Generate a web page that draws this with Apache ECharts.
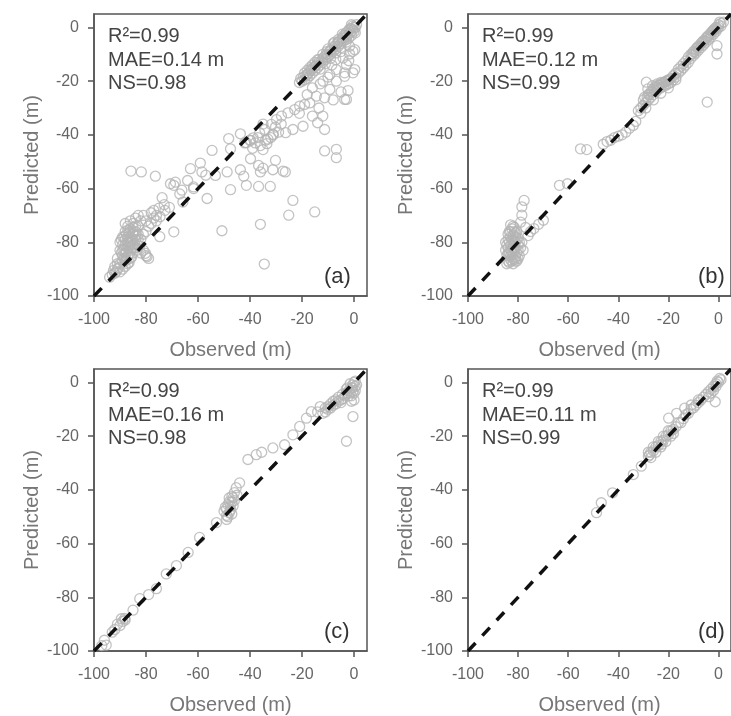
<!DOCTYPE html>
<html>
<head>
<meta charset="utf-8">
<script src="https://cdn.jsdelivr.net/npm/echarts@6/dist/echarts.min.js"></script>
<style>
  html, body { margin: 0; padding: 0; background: #fff; }
  #chart { width: 731px; height: 716px; }
</style>
</head>
<body>
<div id="chart"></div>
<script>
// observed vs predicted depth (m), one array per panel
var pointsA = [
  // lower-left cluster
  [-94,-93],[-93,-92],[-92,-91.5],[-91,-90],[-92,-89],[-90,-88],[-91,-86],[-89,-85],[-90,-83],[-88,-84],
  [-89,-81],[-88,-79],[-87,-82],[-88,-76],[-87,-78],[-86,-80],[-86,-75],[-85,-77],[-85,-73],[-84,-79],
  [-84,-71],[-83,-74],[-83,-77],[-82,-72],[-81,-70],[-80,-72],[-86,-86],[-87,-88],[-85,-84],[-84,-82],
  [-83,-81],[-82,-79],[-81,-77],[-80,-76],[-79,-74],[-78,-73],[-77,-71],[-76,-70],[-82,-84],[-80,-85],
  [-79,-86],[-81,-83],[-89,-90],[-90,-91],[-88,-87],[-87,-85],[-86,-83],[-85,-81],[-89,-78],[-90,-80],
  [-87,-74],[-84,-76],[-83,-70],[-88,-73],[-86,-72],[-89,-87],[-91,-88],[-87,-80],[-85,-79],[-83,-79],
  [-88.5,-82.5],[-87.5,-83.5],[-86.5,-84.5],[-85.5,-85.5],[-88.5,-86],[-89.5,-84],[-87.5,-86.5],[-86.5,-87.5],
  [-88,-89],[-90.5,-89.5],[-91.5,-91],[-92.5,-90.5],[-89,-83],[-88,-81],[-87,-79.5],[-86,-78],[-85,-76],
  [-84,-74],[-86.5,-76.5],[-87.5,-77],[-88.5,-78],[-89.5,-79],[-85.5,-82],[-84.5,-80.5],[-83.5,-83],
  [-82.5,-81.5],[-86,-81.5],[-87,-75.5],[-85,-74.5],[-84,-77.5],
  // middle scatter
  [-77,-68.1],[-75,-67.3],[-72.7,-68.1],[-74.6,-70.5],[-69.3,-76.1],[-74.7,-77.9],[-80.2,-84.1],[-79.6,-85.4],
  [-70.6,-58.2],[-68.7,-57.6],[-65.8,-65],[-61.7,-59.4],[-85.8,-53.5],[-81.8,-53.8],[-76.4,-55.4],[-69.3,-58.8],
  [-66.2,-60.6],[-73.8,-63.4],[-62.9,-52.6],[-59.1,-50.5],[-58.5,-53.8],[-56.5,-63.7],[-61.7,-60],[-54.6,-45.8],
  [-53.3,-55.1],[-48.2,-41.4],[-43.7,-39.6],[-47.5,-45.2],[-48.8,-53.8],[-47.5,-60.4],[-43.7,-53],[-42.4,-55.4],
  [-41.4,-58.8],[-39.8,-48.9],[-36.7,-51.4],[-36,-53.8],[-36.7,-59.2],[-32.2,-59.2],[-30.2,-49.5],[-33.5,-43.3],
  [-39.8,-42.1],[-26.4,-53.8],[-50.8,-75.7],[-36,-73.3],[-34.5,-88.1],[-25.1,-69.9],[-30.2,-37.1],[-35,-36],
  [-40,-42],[-38,-43],[-36,-44],[-34,-42],[-32,-41],[-31,-40],[-29,-39],[-37,-41],[-35,-45.5],[-39,-45],
  [-42,-43],[-27.3,-53.5],[-31.2,-53],[-35,-52.4],[-23.5,-64.4],[-15.1,-68.7],[-64,-57],[-57,-55],
  [-78,-69],[-76,-72],[-73,-66],[-71,-67],[-67,-62],
  // lower branch
  [-41.4,-42.9],[-38.8,-41.1],[-36.3,-39.2],[-34.3,-38],[-31.8,-36.1],[-29.8,-34.3],[-27.9,-33],[-25.4,-31.8],
  [-22.8,-30.6],[-20.9,-29.3],[-19,-28.7],[-17,-28.1],[-14.5,-25.6],[-11.3,-26.2],[-9.3,-23.1],[-6.8,-20],
  [-3.6,-18.2],[-2.9,-13.9],[-0.4,-16.9],[0.3,-8.3],[-11.3,-38],[-19.6,-36.8],[-23.5,-38],[-26.3,-39.2],
  [-31.2,-39.8],[-33.1,-41.6],[-16,-33],[-13.5,-30],[-8,-27],[-5,-24],[-18,-25],[-16,-22.5],[-13,-21],
  [-10,-18.5],[-12,-33],[-14,-35.5],[-11.3,-46],[-6.8,-45.4],[-6.8,-48.5],[-2.9,-26.8],[-3.6,-26.8],
  [-11.9,-20],[-9.3,-17.6],[-6.8,-15.7],[0.3,-15.7],[-3.6,-16.9],[-4.2,-11.4],[-0.4,-8.9],[-1.7,-7],
  [-1.7,-9.9],[-2.3,-23.5],[-5,-9],[-7,-12],[-8.5,-14],[-2,-12.4],[-21,-32],[-28,-36],
  // upper band along the 1:1 line
  [0,0],[-0.5,-1],[-1,-0.5],[-1.5,-2],[-2,-1],[-2.5,-3],[-3,-2],[-0.5,0.5],[0.5,0],[-1,-3],
  [-2,-4],[-3,-4.5],[-3.5,-3],[-4,-5],[-4.5,-4],[-5,-6],[-5.5,-5],[-6,-7],[-6.5,-6],[-7,-8],
  [-7.5,-7],[-8,-9],[-8.5,-8],[-9,-10],[-9.5,-9],[-10,-11],[-10.5,-10],[-11,-12],[-11.5,-11],[-12,-13],
  [-12.5,-12.5],[-13,-14],[-13.5,-13],[-14,-15],[-14.5,-14],[-15,-16],[-15.5,-15],[-16,-17],[-16.5,-16],
  [-17,-18],[-17.5,-17],[-18,-19],[-18.5,-18],[-19,-19.5],[-20,-20],[-4,-3],[-6,-4.5],[-8,-6],[-10,-8],
  [-12,-10],[-14,-12],[-16,-14],[-18,-16],[-15,-13],[-19,-17],[-17,-15],[1,1],[0.5,-2],[-1,1],
  [-19.5,-18.5],[-18,-17.5],[-16.5,-15.5],[-15,-14.5],[-13.5,-12],[-12,-11.5],[-10.5,-9],[-9,-8.5],
  [-7.5,-5.5],[-6,-5.5],[-4.5,-2.5],[-3,-3.5],[-1.5,-0.5],[0,-1.5],[-20.5,-19],[-21,-20.5],
  [-13,-15.5],[-11,-13.5],[-9,-11.5],[-7,-9.5],[-5,-7.5],[-3,-5.5]
];

var pointsB = [
  // lower-left cluster
  [-84,-87],[-83,-86.5],[-82,-86],[-81,-85.5],[-84.5,-85],[-83.5,-84],[-82.5,-83.5],[-81.5,-83],[-80.5,-84],
  [-84,-82],[-83,-81],[-82,-80.5],[-81,-80],[-80,-81],[-84,-79],[-83,-78],[-82,-77.5],[-81,-78],[-80,-78.5],
  [-83.5,-76],[-82.5,-75],[-81.5,-74.5],[-83,-73.5],[-80.5,-76],[-79.5,-80],[-79,-82],[-82,-88],[-84.5,-88],
  [-85,-83],[-85,-80],[-79.5,-85],[-78,-83],[-78.5,-80],[-83,-85],[-81,-87],[-80,-86],[-82,-82],[-81,-76.5],
  [-83.5,-87.5],[-82.5,-87],[-81.5,-86.5],[-80.5,-87],[-84,-84],[-83,-83],[-82,-84.5],[-81,-82],[-80,-83],
  [-84.5,-81],[-83.5,-80],[-82.5,-79],[-81.5,-79.5],[-80.5,-79],[-84,-77],[-83,-76],[-82,-74],[-81.5,-76],
  // hollow outliers
  [-77.6,-64.4],[-78.5,-66.8],[-78.5,-69.9],[-79,-72.5],[-77,-74.5],[-73.7,-74.9],[-71.8,-73.3],[-69.9,-71.8],
  [-75,-76],[-76,-77.5],[-63.5,-58.8],[-60.3,-58.2],[-55.1,-45.2],[-52.6,-45.5],
  [-46,-43.5],[-44.5,-42.5],[-43,-42],[-41.5,-41],[-40,-40.5],[-38.5,-40],[-37,-39],[-35.5,-37.5],[-34,-36.5],
  [-33,-35],[-28.8,-20.4],[-28.2,-22.9],[-29.5,-26],[-26.3,-21.7],[-24.4,-21],[-23,-20.5],
  [-4.5,-27.8],[-0.6,-6.8],[-0.6,-9.9],
  // band between -32 and -12
  [-32,-31],[-31,-30],[-30,-29],[-30,-27],[-29,-28],[-28,-27],[-28,-25],[-27,-26],[-27,-24],[-26,-25],
  [-26,-23],[-25,-24],[-25,-22],[-24,-23],[-24,-21.5],[-23,-22.5],[-22,-22],[-22,-20.5],[-21,-21.5],[-21,-20],
  [-20,-21],[-20,-19.5],[-19,-20.5],[-19,-19],[-18,-19.5],[-18,-18],[-17,-18.5],[-17,-17],[-16,-17],[-16,-15.5],
  [-15,-16],[-15,-14.5],[-14,-15],[-14,-13.5],[-13,-14],[-13,-12.5],[-12,-13],[-12,-11],[-31,-32],[-29,-30],
  [-26,-27],[-23,-24.5],[-20,-22.5],[-17,-19.5],[-25.5,-23.5],[-24.5,-22.5],[-23.5,-21.5],[-22.5,-21],
  [-21.5,-20.5],[-20.5,-20],[-19.5,-19.5],[-28.5,-26],[-27.5,-25],[-26.5,-24],
  // band between -12 and 2
  [-11,-11.5],[-11,-10],[-10,-10.5],[-10,-9],[-9,-9.5],[-9,-8],[-8,-8.5],[-8,-7],[-7,-7.5],[-7,-6],
  [-6,-6.5],[-6,-5],[-5,-5.5],[-5,-4],[-4,-4.5],[-4,-3],[-3,-3.5],[-3,-2],[-2,-2.5],[-2,-1],
  [-1,-1.5],[-1,0],[0,0],[0,1],[1,1.5],[1,0.5],[-0.5,-0.5],[-1.5,-0.5],[0.5,2],[2,2],
  [-10.5,-10],[-9.5,-9],[-8.5,-7.5],[-7.5,-7],[-6.5,-5.5],[-5.5,-5],[-4.5,-3.5],[-3.5,-3],[-2.5,-1.5],[-1.5,-1]
];

var pointsC = [
  // near origin
  [0,0],[-0.5,-1],[-1,-2],[-1.5,-0.5],[-2,-3],[-0.5,-3.5],[-1,-5],[0,-4],[0.5,-1.5],[-1.5,-4],
  [-2.5,-2],[-3,-4],[-3.5,-5],[-4,-6],[-5,-6.5],[-6,-7],[-7,-8],[-8,-8.5],[-9,-9.5],[-10,-10],
  [-11,-11],[-12,-11.5],[-4.5,-4.5],[-6,-5.5],[-8,-7],[-10,-9],[-3,-2.5],[0,-6.5],[-0.4,-12.7],[-2.9,-21.9],
  [0.5,-3],[1,-1],[0.5,0.5],[-0.5,-2],[-2,-5],[-7,-6.5],[-9,-8],[-11,-9.5],[-5,-7.5],[-1,-7],
  // along the line
  [-16.4,-10.9],[-18.3,-13.3],[-20.9,-16.4],[-23.5,-19.5],[-26.7,-23.2],[-31.2,-24.4],[-35.5,-26],
  [-37.6,-26.9],[-40.8,-28.7],[-14,-11],[-13,-9],
  // cluster near -47
  [-44,-37.4],[-45.3,-39.2],[-46,-41],[-47,-42.5],[-48,-43],[-47,-44.5],[-48.5,-45.5],[-49,-47],[-47.5,-47.5],
  [-46.5,-46],[-48,-48.5],[-49,-49.5],[-47,-49],[-50,-48],[-46,-44],[-45,-42],[-49.5,-46.5],[-48.5,-50],
  [-47.5,-46],[-46.5,-43],[-48,-44.5],[-49,-51],
  // lower part
  [-52.9,-52.2],[-59.4,-57.7],[-63.8,-63.3],[-68.3,-68.2],[-72.2,-71.3],[-76,-76.8],[-79,-79],[-82.4,-80.5],
  [-85,-84.8],[-88.2,-87.9],[-89,-89],[-90,-90.5],[-91,-90],[-92,-92],[-93,-93],[-95.3,-97.8],[-96,-96],
  [-97,-98],[-88,-88.5],[-89.5,-88]
];

var pointsD = [
  [-48.7,-48.5],[-46.8,-44.8],[-42.3,-41.1],[-34,-34.3],[-30.8,-31.2],
  // band between -29 and -17
  [-28,-27.5],[-27,-26],[-26,-25.5],[-25,-24],[-24,-23.5],[-23,-22],[-22,-21.5],[-21,-20],[-20,-19.5],
  [-19,-18],[-18,-17.5],[-27,-28],[-25,-26],[-23,-24],[-21,-22],[-19,-20],[-26,-24],[-24,-22],[-22,-20],
  [-20,-18],[-28,-26],[-27.5,-27],[-18,-19],[-22.5,-23],
  // upper end
  [-19.9,-13.3],[-16.7,-11.5],[-13.5,-9.6],[-10.9,-8.4],[-8,-6.5],[-3.8,-5.3],[-1.3,-7.2],
  [-15,-15],[-14,-13.5],[-13,-12],[-12,-11.5],[-11,-10],[-10,-9.5],[-9,-8.5],[-8,-7.5],[-7,-6.5],
  [-6,-5.5],[-5,-4.5],[-4,-3.5],[-3,-2.5],[-2,-1.5],[-1,-0.5],[0,0],[1,1],[-1,-1.5],[-2,-3],[-3,-4],
  [-16,-15],[-17,-16.5],[0.5,1.5],[-0.5,0.5]
];

var oneToOne = [[-100, -100], [5, 5]];
var tickValues = [-100, -80, -60, -40, -20, 0];
var panelTags = ['(a)', '(b)', '(c)', '(d)'];
var statsText = [
  'R\u00b2=0.99\nMAE=0.14 m\nNS=0.98',
  'R\u00b2=0.99\nMAE=0.12 m\nNS=0.99',
  'R\u00b2=0.99\nMAE=0.16 m\nNS=0.98',
  'R\u00b2=0.99\nMAE=0.11 m\nNS=0.99'
];

var allPoints = [pointsA, pointsB, pointsC, pointsD];
var gridPos = [
  { left: 94, top: 14 },
  { left: 468, top: 14 },
  { left: 94, top: 369 },
  { left: 468, top: 369 }
];
var FONT = '"Liberation Sans", Arial, sans-serif';

var chart = echarts.init(document.getElementById('chart'));

var grids = [], xAxes = [], yAxes = [], series = [], graphics = [];
gridPos.forEach(function (g, i) {
  grids.push({
    left: g.left, top: g.top, width: 273, height: 282,
    show: true, borderColor: '#555', borderWidth: 1.5, backgroundColor: '#fff'
  });
  var common = {
    gridIndex: i, type: 'value', min: -100, max: 5, interval: 20,
    nameLocation: 'middle',
    nameTextStyle: { color: '#777', fontSize: 20, fontFamily: FONT },
    axisLine: { show: true, onZero: false, lineStyle: { color: '#555', width: 1.5 } },
    axisTick: { show: true, length: 6, customValues: tickValues, lineStyle: { color: '#555', width: 1.5 } },
    axisLabel: { customValues: tickValues, color: '#666', fontSize: 16, fontFamily: FONT },
    splitLine: { show: false }
  };
  xAxes.push(Object.assign({}, common, {
    name: 'Observed (m)', nameGap: 44,
    axisLabel: Object.assign({}, common.axisLabel, { margin: 16 })
  }));
  yAxes.push(Object.assign({}, common, {
    name: 'Predicted (m)', nameGap: 52,
    axisLabel: Object.assign({}, common.axisLabel, { margin: 15 })
  }));
  series.push({
    type: 'scatter', xAxisIndex: i, yAxisIndex: i,
    data: allPoints[i], symbol: 'circle', symbolSize: 10,
    itemStyle: { color: 'rgba(255,255,255,0)', borderColor: '#b4b4b4', borderWidth: 1.3 },
    z: 2
  });
  series.push({
    type: 'line', xAxisIndex: i, yAxisIndex: i,
    data: oneToOne, showSymbol: false, clip: true,
    lineStyle: { color: '#111', width: 3.5, type: [11, 10] },
    z: 3
  });
  graphics.push({
    type: 'text', left: g.left + 14, top: g.top + 11, z: 10,
    style: { text: statsText[i], fill: '#444', font: '20px ' + FONT, lineHeight: 23.5 }
  });
  graphics.push({
    type: 'text', left: g.left + 230, top: g.top + 252, z: 10,
    style: { text: panelTags[i], fill: '#333', font: '22px ' + FONT }
  });
});

var option = {
  animation: false,
  backgroundColor: '#fff',
  grid: grids,
  xAxis: xAxes,
  yAxis: yAxes,
  series: series,
  graphic: graphics
};
chart.setOption(option);
</script>
</body>
</html>
